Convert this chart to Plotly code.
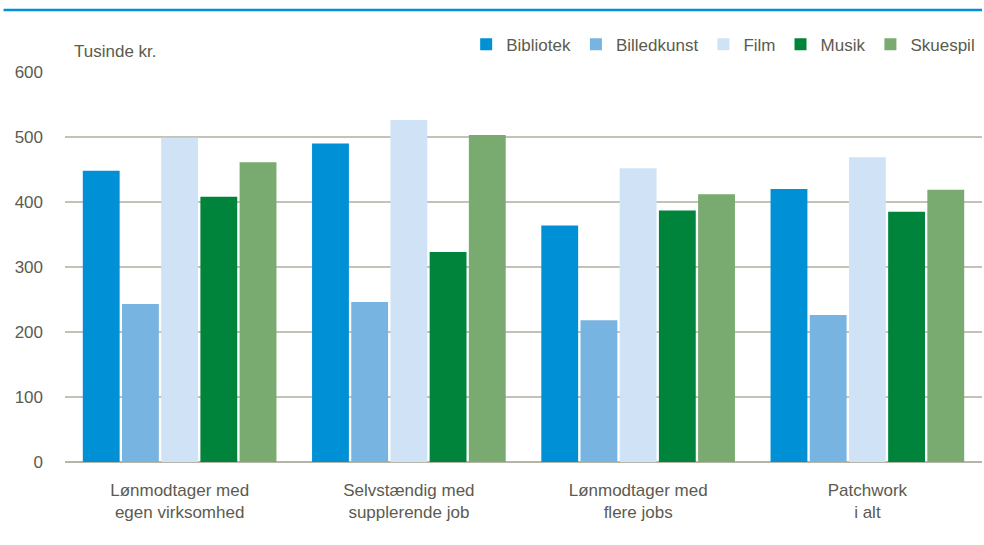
import plotly.graph_objects as go

categories = ["Lønmodtager med<br>egen virksomhed", "Selvstændig med<br>supplerende job",
              "Lønmodtager med<br>flere jobs", "Patchwork<br>i alt"]
series_names = ["Bibliotek", "Billedkunst", "Film", "Musik", "Skuespil"]
bibliotek = [448, 490, 364, 420]
billedkunst = [243, 246, 218, 226]
film = [499, 526, 452, 469]
musik = [408, 323, 387, 385]
skuespil = [461, 503, 412, 419]
colors = ["#0090d5", "#78b4e2", "#cfe2f6", "#00843b", "#79aa6f"]
y_ticks = [0, 100, 200, 300, 400, 500, 600]

FONT = "Liberation Sans, Arial, sans-serif"
TXT = "#5b5b50"

fig = go.Figure()
for name, vals, col in zip(series_names, [bibliotek, billedkunst, film, musik, skuespil], colors):
    fig.add_trace(go.Bar(x=categories, y=vals, name=name, marker_color=col,
                         marker_line_width=0))

fig.update_layout(
    width=984, height=545,
    margin=dict(l=65, r=2, t=72, b=83, autoexpand=False),
    paper_bgcolor="white", plot_bgcolor="white",
    barmode="group", bargap=0.145, bargroupgap=0.06,
    font=dict(family=FONT, color=TXT, size=17),
    legend=dict(orientation="h", x=0.998, xanchor="right", y=1.07, yanchor="middle",
                font=dict(size=17, color=TXT), traceorder="normal",
                bgcolor="rgba(0,0,0,0)", itemwidth=30, tracegroupgap=0),
    showlegend=True,
)
fig.update_yaxes(range=[0, 600], tickvals=y_ticks, showgrid=True, gridcolor="#c3c3b5",
                 gridwidth=1.5, zeroline=True, zerolinecolor="#b5b5a8", zerolinewidth=2,
                 ticklabelstandoff=21, tickfont=dict(size=17, color=TXT), showline=False)
fig.update_xaxes(showline=False, tickfont=dict(size=17, color=TXT), ticklabelstandoff=16)

fig.add_shape(type="line", xref="paper", yref="paper", x0=-0.067, x1=1.0, y0=1.159, y1=1.159,
              line=dict(color="#0090d5", width=2.5))
fig.add_annotation(text="Tusinde kr.", xref="paper", yref="paper", x=0.008, y=1.053,
                   xanchor="left", yanchor="middle", showarrow=False,
                   font=dict(size=17, color=TXT))

fig.write_html("out.html", config={"displayModeBar": False},
               post_script="document.body.style.margin='0';")
